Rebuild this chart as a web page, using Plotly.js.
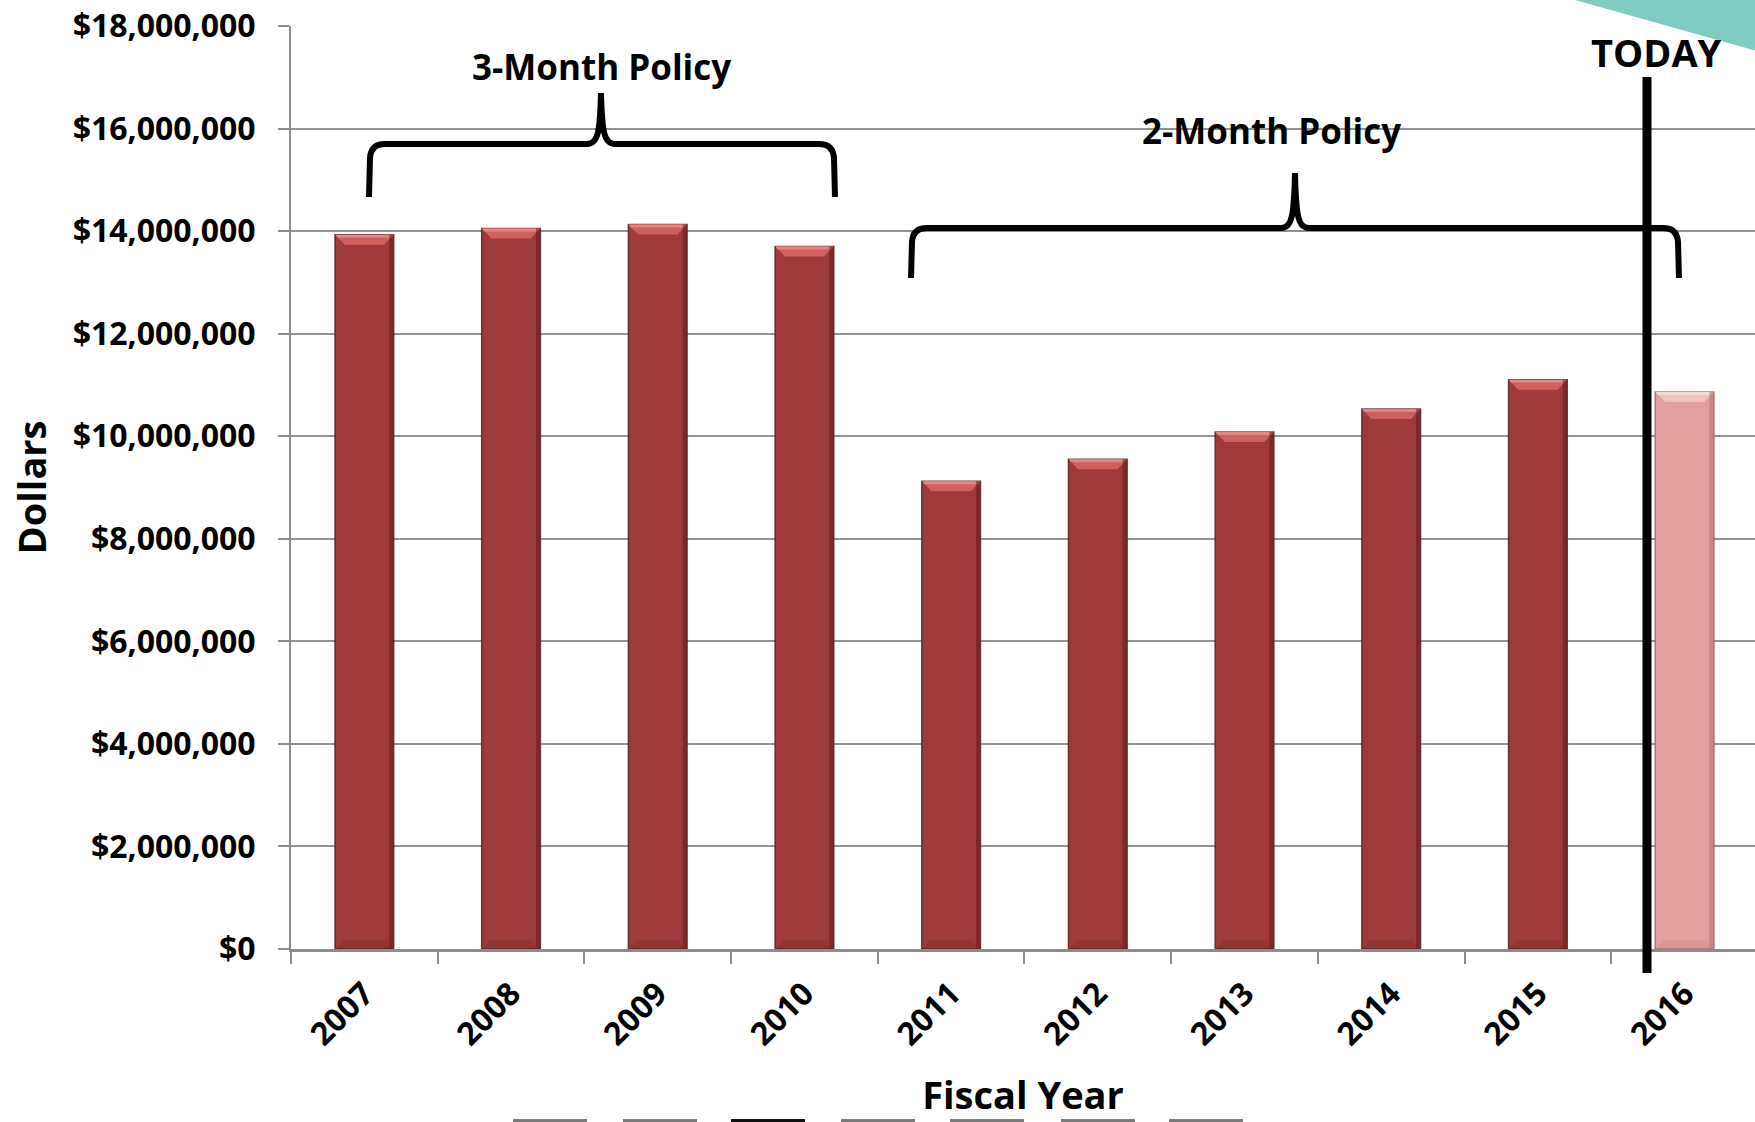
<!DOCTYPE html>
<html>
<head>
<meta charset="utf-8">
<script src="https://cdn.plot.ly/plotly-3.0.1.min.js"></script>
<style>
  html, body { margin: 0; padding: 0; background: #ffffff; }
  #chart { width: 1755px; height: 1122px; }
</style>
</head>
<body>
<div id="chart"></div>
<script>
// Annual spending by fiscal year
const fiscalYears = ['2007', '2008', '2009', '2010', '2011', '2012', '2013', '2014', '2015', '2016'];
const spending = [13930000, 14050000, 14130000, 13700000, 9120000, 9550000, 10080000, 10530000, 11100000, 10860000];
const projectedYear = '2016';

// Text drawn on the chart
const policyLabels = ['3-Month Policy', '2-Month Policy'];
const todayLabel = 'TODAY';
const xTitle = 'Fiscal Year';
const yTitle = 'Dollars';

// Page and plot-area geometry (pixels)
const W = 1755, H = 1122;
const M = { l: 291, r: 0, t: 26, b: 173 };
const plotW = W - M.l - M.r;
const plotH = H - M.t - M.b;
const xRange = [-0.5, 9.48];
const barWidth = 0.4;

// pixel -> paper helpers for decorations
const px = x => ((x - M.l) / plotW).toFixed(5);
const py = y => ((H - M.b - y) / plotH).toFixed(5);
const pt = (x, y) => px(x) + ',' + py(y);

const FONT = 'Open Sans, Lato, Arial, sans-serif';
const barMain = '#9e3b3a';
const barLight = '#e3a09f';

const colors = fiscalYears.map(y => y === projectedYear ? barLight : barMain);
const edgeColors = fiscalYears.map(y => y === projectedYear ? 'rgba(160,100,100,0.85)' : 'rgba(90,30,30,0.85)');

// Curly brace drawn in page pixels, converted to paper space
function brace(x0, x1, xm, yBar, yEnd, yPeak) {
  const r = 14;
  return 'M ' + pt(x0, yEnd) +
    ' L ' + pt(x0 + 1, yBar + r) +
    ' Q ' + pt(x0 + 2, yBar) + ' ' + pt(x0 + r + 2, yBar) +
    ' L ' + pt(xm - 14, yBar) +
    ' C ' + pt(xm - 3, yBar) + ' ' + pt(xm - 1, yBar - 12) + ' ' + pt(xm, yPeak) +
    ' C ' + pt(xm + 1, yBar - 12) + ' ' + pt(xm + 3, yBar) + ' ' + pt(xm + 14, yBar) +
    ' L ' + pt(x1 - r - 2, yBar) +
    ' Q ' + pt(x1 - 2, yBar) + ' ' + pt(x1 - 1, yBar + r) +
    ' L ' + pt(x1, yEnd);
}

const shapes = [];

// Bevel highlights on each bar, sized in pixels and anchored at the bar's category index and value
const halfPx = barWidth * plotW / (xRange[1] - xRange[0]) / 2;
fiscalYears.forEach((yr, i) => {
  const light = yr === projectedYear;
  const h = halfPx - 0.5;
  // top bevel
  shapes.push({
    type: 'path', layer: 'above', xref: 'x', yref: 'y',
    xsizemode: 'pixel', ysizemode: 'pixel', xanchor: i, yanchor: spending[i],
    path: `M ${-h},0 L ${h},0 L ${h - 9},-10 L ${-h + 9},-10 Z`,
    fillcolor: light ? '#f0c0bf' : '#d0605d', line: { width: 0 }
  });
  shapes.push({
    type: 'path', layer: 'above', xref: 'x', yref: 'y',
    xsizemode: 'pixel', ysizemode: 'pixel', xanchor: i, yanchor: spending[i],
    path: `M ${-h},0 L ${h},0 L ${h - 2},-3 L ${-h + 2},-3 Z`,
    fillcolor: light ? '#f8d8d7' : '#e88481', line: { width: 0 }
  });
  // darker right edge
  shapes.push({
    type: 'rect', layer: 'above', xref: 'x', yref: 'y',
    xsizemode: 'pixel', xanchor: i, x0: h - 4, x1: h,
    y0: 0, y1: spending[i],
    fillcolor: light ? 'rgba(180,110,110,0.55)' : 'rgba(100,30,30,0.55)', line: { width: 0 }
  });
  // darker base band
  shapes.push({
    type: 'path', layer: 'above', xref: 'x', yref: 'y',
    xsizemode: 'pixel', ysizemode: 'pixel', xanchor: i, yanchor: 0,
    path: `M ${-h},0 L ${h},0 L ${h - 8},9 L ${-h + 8},9 Z`,
    fillcolor: light ? 'rgba(200,130,130,0.35)' : 'rgba(110,35,35,0.3)', line: { width: 0 }
  });
});

// Policy braces
shapes.push({
  type: 'path', layer: 'above', xref: 'paper', yref: 'paper',
  path: brace(369, 835, 601, 144, 197, 93),
  line: { color: '#000000', width: 6 }
});
shapes.push({
  type: 'path', layer: 'above', xref: 'paper', yref: 'paper',
  path: brace(911, 1679, 1295, 228, 278, 173),
  line: { color: '#000000', width: 6 }
});

// "Today" marker line
shapes.push({
  type: 'line', layer: 'above', xref: 'paper', yref: 'paper',
  x0: px(1647), x1: px(1647), y0: py(973), y1: py(77),
  line: { color: '#000000', width: 9 }
});

// Corner accent
shapes.push({
  type: 'path', layer: 'above', xref: 'paper', yref: 'paper',
  path: 'M ' + pt(1568, -2) + ' L ' + pt(1760, -2) + ' L ' + pt(1760, 52) + ' Z',
  fillcolor: '#7ecbc1', line: { width: 0 }
});

// Slide navigation tabs along the bottom edge
[513, 623, 731, 841, 950, 1061, 1169].forEach((x, k) => {
  shapes.push({
    type: 'rect', layer: 'above', xref: 'paper', yref: 'paper',
    x0: px(x), x1: px(x + 74), y0: py(1119), y1: py(1126),
    fillcolor: k === 2 ? '#111111' : '#7a7a7a', line: { width: 0 }
  });
});

const annotations = [
  { text: policyLabels[0], x: px(602), y: py(66) },
  { text: policyLabels[1], x: px(1272), y: py(130) },
  { text: todayLabel, x: px(1657), y: py(52), size: 38 }
].map(a => ({
  text: a.text, xref: 'paper', yref: 'paper', x: a.x, y: a.y,
  xanchor: 'center', yanchor: 'middle', showarrow: false,
  font: { family: FONT, size: a.size || 35, color: '#000000', weight: 700 }
}));

const trace = {
  type: 'bar',
  x: fiscalYears,
  y: spending,
  width: barWidth,
  marker: { color: colors, line: { color: edgeColors, width: 1.5 } },
  hoverinfo: 'x+y'
};

const layout = {
  width: W, height: H,
  margin: M,
  paper_bgcolor: '#ffffff',
  plot_bgcolor: '#ffffff',
  showlegend: false,
  font: { family: FONT, color: '#000000' },
  bargap: 0.6,
  xaxis: {
    type: 'category',
    range: xRange,
    tickson: 'boundaries',
    ticks: 'outside', ticklen: 12, tickwidth: 2, tickcolor: '#8c8c8c',
    tickangle: -45,
    ticklabelstandoff: 10,
    tickfont: { family: FONT, size: 32, color: '#000000', weight: 700 },
    showline: true, linecolor: '#8c8c8c', linewidth: 3,
    showgrid: false, zeroline: false,
    automargin: false,
    title: { text: xTitle, standoff: 30, font: { family: FONT, size: 38, color: '#000000', weight: 700 } }
  },
  yaxis: {
    range: [0, 18000000],
    dtick: 2000000,
    tickprefix: '$',
    tickformat: ',.0f',
    ticks: 'outside', ticklen: 11, tickwidth: 2, tickcolor: '#8c8c8c',
    ticklabelstandoff: 16,
    tickfont: { family: FONT, size: 32, color: '#000000', weight: 700 },
    showline: true, linecolor: '#8c8c8c', linewidth: 2,
    showgrid: true, gridcolor: '#929292', gridwidth: 2,
    zeroline: false,
    automargin: false,
    title: { text: yTitle, standoff: 14, font: { family: FONT, size: 38, color: '#000000', weight: 700 } }
  },
  shapes: shapes,
  annotations: annotations
};

Plotly.newPlot('chart', [trace], layout, { displayModeBar: false, staticPlot: true });
</script>
</body>
</html>
